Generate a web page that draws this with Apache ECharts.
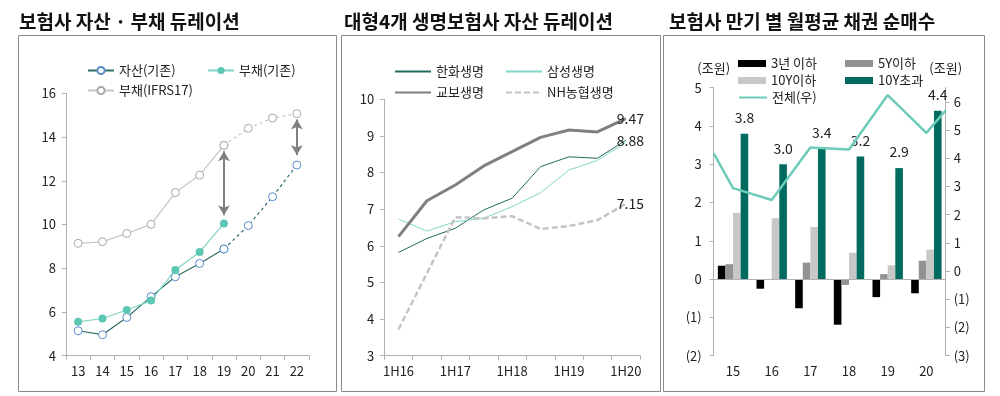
<!DOCTYPE html>
<html>
<head>
<meta charset="utf-8">
<script src="https://cdn.jsdelivr.net/npm/echarts@6/dist/echarts.min.js"></script>
<style>
html,body{margin:0;padding:0;background:#fff;}
#chart{width:1000px;height:396px;}
</style>
</head>
<body>
<div id="chart"></div>
<script>
// 보험사 자산 · 부채 듀레이션 (19 이후는 점선)
var years = ['13','14','15','16','17','18','19','20','21','22'];
var assetDur = [5.14, 4.96, 5.75, 6.70, 7.61, 8.22, 8.88, 9.95, 11.27, 12.72];
var liabDur = [5.55, 5.70, 6.09, 6.52, 7.92, 8.74, 10.05];
var ifrsDur = [9.14, 9.21, 9.59, 10.01, 11.46, 12.26, 13.62, 14.40, 14.87, 15.07];
var actualEnd = 6;
var gapArrows = [['19', 13.35, 10.42], ['22', 14.80, 13.18]];

// 대형4개 생명보험사 자산 듀레이션
var halves = ['1H16','2H16','1H17','2H17','1H18','2H18','1H19','2H19','1H20'];
var hanwha = [5.82, 6.20, 6.48, 6.98, 7.30, 8.16, 8.43, 8.39, 8.88];
var samsung = [6.73, 6.40, 6.66, 6.75, 7.07, 7.45, 8.07, 8.33, 8.82];
var kyobo = [6.25, 7.23, 7.66, 8.18, 8.57, 8.96, 9.16, 9.11, 9.47];
var nh = [3.72, 5.25, 6.78, 6.75, 6.81, 6.46, 6.54, 6.70, 7.15];

// 보험사 만기 별 월평균 채권 순매수 (조원)
var bondYears = ['15','16','17','18','19','20'];
var under3 = [0.35, -0.25, -0.76, -1.19, -0.47, -0.37];
var under5 = [0.39, -0.01, 0.43, -0.15, 0.13, 0.48];
var under10 = [1.73, 1.59, 1.36, 0.69, 0.36, 0.77];
var over10 = [3.8, 3.0, 3.4, 3.2, 2.9, 4.4];
var totalX = [14.5, 15, 16, 17, 18, 19, 20, 20.5];
var totalBuy = [4.17, 2.94, 2.52, 4.38, 4.31, 6.24, 4.90, 5.70];

var FONT = '"Noto Sans CJK KR", "Noto Sans", sans-serif';
var GRAY = '#b0b0b0';
var TXT = '#222';

function paren(v){
  return v < 0 ? '(' + (-v) + ')' : '' + v;
}
function solidPart(arr, end){
  return arr.map(function(v, i){ return i <= end ? v : null; });
}
function dashPart(arr, start){
  return arr.map(function(v, i){ return i >= start ? v : null; });
}
function legendItem(name, x, y, w, h){
  return {
    data: [name], left: x, top: y - 7, padding: 0,
    itemWidth: w, itemHeight: h, selectedMode: false,
    textStyle: {fontFamily: FONT, fontSize: 13, color: TXT}
  };
}
// legend for plain line (no marker)
function lineLegend(name, x, y, w, h){
  var l = legendItem(name, x, y, w, h);
  l.itemStyle = {opacity: 0};
  return l;
}
function catAxis(grid, data){
  return {
    type: 'category', gridIndex: grid, data: data,
    axisLine: {lineStyle: {color: GRAY, width: 1}},
    axisTick: {show: true, length: 4, interval: 0, lineStyle: {color: GRAY}},
    axisLabel: {fontFamily: FONT, fontSize: 13, color: TXT, margin: 9}
  };
}
function valAxis(grid, min, max, step){
  return {
    type: 'value', gridIndex: grid, min: min, max: max, interval: step,
    axisLine: {show: true, lineStyle: {color: GRAY, width: 1}},
    axisTick: {show: true, length: 4, lineStyle: {color: GRAY}},
    splitLine: {show: false},
    axisLabel: {fontFamily: FONT, fontSize: 13, color: TXT, margin: 10}
  };
}
function bar(name, data, color){
  return {
    name: name, type: 'bar', xAxisIndex: 2, yAxisIndex: 2,
    data: data, barWidth: 7.6, barGap: '0%',
    itemStyle: {color: color}
  };
}
function title(text, x){
  return {text: text, left: x, top: 12, padding: 0,
    textStyle: {fontFamily: FONT, fontSize: 19, fontWeight: 'bold', color: '#111'}};
}

var x2 = catAxis(2, bondYears);
x2.axisLine = {show: false, onZero: false};
x2.axisTick = {show: false};

var yLeft = valAxis(2, -2, 5, 1);
yLeft.axisLabel.formatter = paren;
yLeft.axisLabel.margin = 12;
yLeft.name = '(조원)';
yLeft.nameGap = 13;
yLeft.nameTextStyle = {fontFamily: FONT, fontSize: 13, color: TXT};

var yRight = valAxis(2, -3, 6.5, 1);
yRight.position = 'right';
yRight.axisLabel.formatter = paren;
yRight.axisLabel.showMaxLabel = false;
yRight.axisLabel.margin = 8;
yRight.name = '(조원)';
yRight.nameGap = 13;
yRight.nameTextStyle = {fontFamily: FONT, fontSize: 13, color: TXT};

var x1 = catAxis(1, halves);
x1.axisLabel.interval = 1;

var hollowAsset = {color: '#fff', borderColor: '#5a8dc8', borderWidth: 1};
var hollowIfrs = {color: '#fff', borderColor: '#a8a8a8', borderWidth: 1};

var endLabel = {show: true, distance: 0, offset: [-9, 0], fontFamily: FONT, fontSize: 14, color: TXT,
  formatter: function(p){ return Number(p.value).toFixed(2); }};

var option = {
  animation: false,
  backgroundColor: '#fff',
  title: [
    title('보험사 자산 · 부채 듀레이션', 19),
    title('대형4개 생명보험사 자산 듀레이션', 344),
    title('보험사 만기 별 월평균 채권 순매수', 669)
  ],
  graphic: [
    {type: 'rect', shape: {x: 18.5, y: 35.5, width: 318, height: 356}, style: {fill: 'none', stroke: '#8a8a8a', lineWidth: 1}},
    {type: 'rect', shape: {x: 341.5, y: 35.5, width: 319, height: 356}, style: {fill: 'none', stroke: '#8a8a8a', lineWidth: 1}},
    {type: 'rect', shape: {x: 663.5, y: 35.5, width: 321, height: 356}, style: {fill: 'none', stroke: '#8a8a8a', lineWidth: 1}}
  ],
  legend: [
    legendItem('자산(기존)', 87, 71, 26, 9),
    legendItem('부채(기존)', 207, 71, 26, 9),
    legendItem('부채(IFRS17)', 87, 91, 26, 9),
    lineLegend('한화생명', 394, 72, 36, 8),
    lineLegend('삼성생명', 505, 72, 36, 8),
    lineLegend('교보생명', 394, 93, 36, 8),
    lineLegend('NH농협생명', 505, 93, 36, 8),
    Object.assign(legendItem('3년 이하', 738, 64, 28, 7), {icon: 'rect'}),
    Object.assign(legendItem('5Y이하', 845, 64, 28, 7), {icon: 'rect'}),
    Object.assign(legendItem('10Y이하', 738, 81, 28, 7), {icon: 'rect'}),
    Object.assign(legendItem('10Y초과', 845, 81, 28, 7), {icon: 'rect'}),
    lineLegend('전체(우)', 738, 98, 28, 7)
  ],
  grid: [
    {left: 66, right: 691, top: 93.3, bottom: 40.3},
    {left: 384.3, right: 360, top: 99.3, bottom: 40.3},
    {left: 713.7, right: 54.3, top: 87.7, bottom: 40.3}
  ],
  xAxis: [
    catAxis(0, years),
    x1,
    x2,
    {type: 'value', gridIndex: 2, position: 'top', min: 14.5, max: 20.5, show: false}
  ],
  yAxis: [
    valAxis(0, 4, 16, 2),
    valAxis(1, 3, 10, 1),
    yLeft,
    yRight
  ],
  series: [
    // panel 1
    {name: '부채(IFRS17)', type: 'line', xAxisIndex: 0, yAxisIndex: 0,
     data: solidPart(ifrsDur, actualEnd), symbol: 'circle', symbolSize: 8,
     lineStyle: {color: '#c8c8c8', width: 1.3}, itemStyle: hollowIfrs,
     markLine: {
       silent: true, symbol: ['arrow', 'arrow'], symbolSize: [9, 10],
       lineStyle: {color: '#808080', width: 2, type: 'solid'},
       label: {show: false},
       data: gapArrows.map(function(a){ return [{coord: [a[0], a[1]]}, {coord: [a[0], a[2]]}]; })
     }},
    {name: '부채(IFRS17)', type: 'line', xAxisIndex: 0, yAxisIndex: 0,
     data: dashPart(ifrsDur, actualEnd), symbol: 'circle', symbolSize: 8,
     lineStyle: {color: '#c8c8c8', width: 1.3, type: [3, 3]}, itemStyle: hollowIfrs},
    {name: '자산(기존)', type: 'line', xAxisIndex: 0, yAxisIndex: 0,
     data: solidPart(assetDur, actualEnd), symbol: 'circle', symbolSize: 8,
     lineStyle: {color: '#2c6e65', width: 1.2}, itemStyle: hollowAsset},
    {name: '자산(기존)', type: 'line', xAxisIndex: 0, yAxisIndex: 0,
     data: dashPart(assetDur, actualEnd), symbol: 'circle', symbolSize: 8,
     lineStyle: {color: '#2c6e65', width: 1.2, type: [3, 3]}, itemStyle: hollowAsset},
    {name: '부채(기존)', type: 'line', xAxisIndex: 0, yAxisIndex: 0,
     data: liabDur, symbol: 'circle', symbolSize: 8,
     lineStyle: {color: '#7fd5c4', width: 1.2}, itemStyle: {color: '#5cc7b2'}},
    // panel 2
    {name: '한화생명', type: 'line', xAxisIndex: 1, yAxisIndex: 1, data: hanwha,
     symbol: 'none', lineStyle: {color: '#226b5f', width: 1}, itemStyle: {color: '#226b5f'}, endLabel: endLabel},
    {name: '삼성생명', type: 'line', xAxisIndex: 1, yAxisIndex: 1, data: samsung,
     symbol: 'none', lineStyle: {color: '#7fd6c9', width: 1}, itemStyle: {color: '#7fd6c9'}},
    {name: '교보생명', type: 'line', xAxisIndex: 1, yAxisIndex: 1, data: kyobo,
     symbol: 'none', lineStyle: {color: '#808080', width: 3}, itemStyle: {color: '#808080'}, endLabel: endLabel},
    {name: 'NH농협생명', type: 'line', xAxisIndex: 1, yAxisIndex: 1, data: nh,
     symbol: 'none', lineStyle: {color: '#c4c4c4', width: 2.5, type: [6, 3]}, itemStyle: {color: '#c4c4c4'}, endLabel: endLabel},
    // panel 3
    Object.assign(bar('3년 이하', under3, '#000000'), {
      markLine: {silent: true, symbol: 'none', label: {show: false},
        lineStyle: {color: GRAY, width: 1, type: 'solid'}, data: [{yAxis: 0}]}
    }),
    bar('5Y이하', under5, '#929292'),
    bar('10Y이하', under10, '#c8c8c8'),
    Object.assign(bar('10Y초과', over10, '#006b5e'), {
      label: {show: true, position: 'top', distance: 9, fontFamily: FONT, fontSize: 14, color: TXT,
        formatter: function(p){ return p.value.toFixed(1); }}
    }),
    {name: '전체(우)', type: 'line', xAxisIndex: 3, yAxisIndex: 3,
     data: totalX.map(function(x, i){ return [x, totalBuy[i]]; }),
     symbol: 'none', lineStyle: {color: '#6ccbb9', width: 2.5}, itemStyle: {color: '#6ccbb9'}}
  ]
};

var chart = echarts.init(document.getElementById('chart'));
chart.setOption(option);
</script>
</body>
</html>
